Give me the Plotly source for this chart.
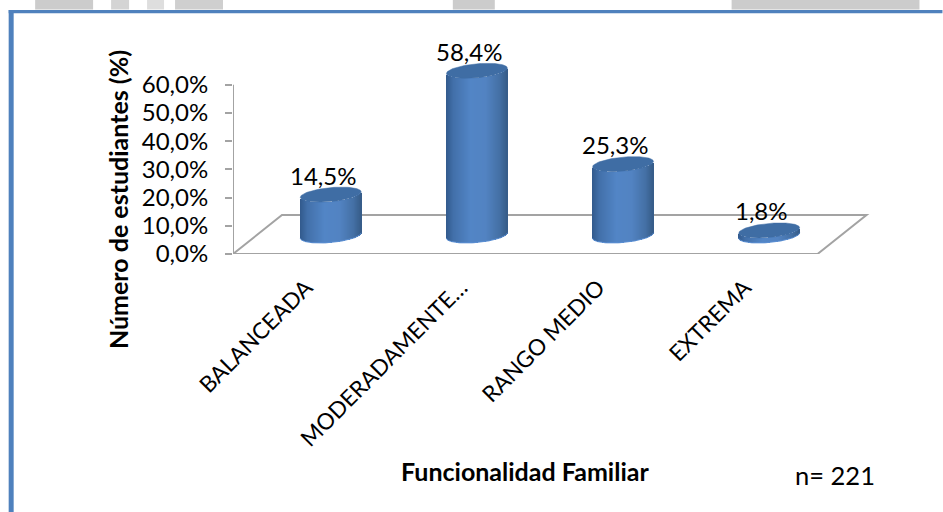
import numpy as np
import plotly.graph_objects as go

# Data
categories = ["BALANCEADA", "MODERADAMENTE…", "RANGO MEDIO", "EXTREMA"]
percentages = [14.5, 58.4, 25.3, 1.8]
y_ticks = [0, 10, 20, 30, 40, 50, 60]

# Fake-3D geometry: pixels per axis unit and cylinder shape
W, H = 943, 512
PX_X, PX_Y = 146.25, 2.82
LEFT, FLOOR = 233, 254
Y_MAX = 78
X_MIN, X_MAX = -0.5, 3.9
DEPTH_X = 24.7 / PX_X        # cylinders stand mid-way along the floor depth
DEPTH_Y = 18.5 / PX_Y
BACK_X, BACK_Y = 49 / PX_X, 39 / PX_Y
RADIUS = 30.5 / PX_X
TILT = 2.7 / PX_Y
MINOR = 7.0 / PX_Y
AXIS_GREY = "#a3a3a3"
BLUE_TOP = "#3f6da4"
RIM = "#5c90d4"

MARGIN_T = FLOOR - Y_MAX * PX_Y
PLOT_W = (X_MAX - X_MIN) * PX_X
PLOT_H = Y_MAX * PX_Y

shade_t = [-1.0, -0.75, -0.2, 0.3, 0.75, 1.0]
shade_r = [50, 66, 82, 82, 68, 54]
shade_g = [90, 112, 133, 131, 112, 92]
shade_b = [140, 170, 198, 194, 165, 136]


def pct(v):
    return f"{v:.1f}%".replace(".", ",")


def shade(t):
    r = np.interp(t, shade_t, shade_r)
    g = np.interp(t, shade_t, shade_g)
    b = np.interp(t, shade_t, shade_b)
    return f"rgb({r:.0f},{g:.0f},{b:.0f})"


def page_x(px):
    # page pixel to paper fraction of the plot area
    return (px - LEFT) / PLOT_W


def page_y(px):
    return 1 - (px - MARGIN_T) / PLOT_H


fig = go.Figure()

# One cylinder per category: a body of thin shaded bars, a rim and a lid
n_strips = 61
t_edges = np.linspace(-1, 1, n_strips + 1)
t_mid = (t_edges[:-1] + t_edges[1:]) / 2
angles = np.linspace(0, 2 * np.pi, 121)
lower = np.linspace(np.pi, 2 * np.pi, 61)

for i, value in enumerate(percentages):
    cx = i + DEPTH_X
    arc = DEPTH_Y + TILT * t_mid - MINOR * np.sqrt(1 - t_mid ** 2)
    fig.add_trace(go.Bar(
        x=cx + RADIUS * t_mid,
        y=[value] * n_strips,
        base=arc,
        width=2 * RADIUS / n_strips,
        marker=dict(color=[shade(t) for t in t_mid], line=dict(width=0)),
        hoverinfo="skip",
    ))
    fig.add_trace(go.Scatter(
        x=cx + RADIUS * np.cos(lower),
        y=DEPTH_Y + TILT * np.cos(lower) + MINOR * np.sin(lower),
        mode="lines",
        line=dict(color=RIM, width=1),
        hoverinfo="skip",
    ))
    fig.add_trace(go.Scatter(
        x=cx + RADIUS * np.cos(angles),
        y=DEPTH_Y + value + TILT * np.cos(angles) + MINOR * np.sin(angles),
        mode="lines",
        fill="toself",
        fillcolor=BLUE_TOP,
        line=dict(color=BLUE_TOP, width=0.5),
        hoverinfo="skip",
    ))

shapes = [
    # Floor outline and value axis
    dict(type="path", xref="x", yref="y", layer="below",
         path=(f"M {X_MIN},0 L {3.5},0 L {3.5 + BACK_X},{BACK_Y} "
               f"L {X_MIN + BACK_X},{BACK_Y} Z"),
         line=dict(color=AXIS_GREY, width=2)),
    dict(type="line", xref="x", yref="y", layer="below",
         x0=X_MIN, x1=X_MIN, y0=0, y1=60,
         line=dict(color=AXIS_GREY, width=2)),
    # Slide frame
    dict(type="rect", xref="paper", yref="paper", layer="above",
         x0=page_x(8.5), x1=page_x(13.5), y0=page_y(H), y1=page_y(10),
         fillcolor="#4f81bd", line=dict(width=0)),
    dict(type="rect", xref="paper", yref="paper", layer="above",
         x0=page_x(8.5), x1=page_x(W), y0=page_y(13.3), y1=page_y(10),
         fillcolor="#4f81bd", line=dict(width=0)),
]
# Grey strips above the frame
for x0, x1, col in [(35, 93, "#cccccc"), (111, 129, "#d4d4d4"), (147, 164, "#dedede"),
                    (175, 223, "#cfcfcf"), (453, 495, "#cccccc"), (732, 920, "#cccccc")]:
    shapes.append(dict(type="rect", xref="paper", yref="paper", layer="above",
                       x0=page_x(x0), x1=page_x(x1), y0=page_y(9.5), y1=page_y(0),
                       fillcolor=col, line=dict(width=0)))

annotations = [
    dict(text=pct(v), x=i + DEPTH_X - 8 / PX_X, y=DEPTH_Y + v + 19.5 / PX_Y,
         xref="x", yref="y", showarrow=False, font=dict(size=24),
         xanchor="center", yanchor="middle")
    for i, v in enumerate(percentages)
]
annotations += [
    dict(text="<b>Número de estudiantes (%)</b>", textangle=-90,
         x=page_x(118), y=page_y(200), xref="paper", yref="paper",
         showarrow=False, font=dict(size=25), xanchor="center", yanchor="middle"),
    dict(text="<b>Funcionalidad Familiar</b>",
         x=page_x(525), y=page_y(471), xref="paper", yref="paper",
         showarrow=False, font=dict(size=25), xanchor="center", yanchor="middle"),
    dict(text="n= 221",
         x=page_x(835.5), y=page_y(475), xref="paper", yref="paper",
         showarrow=False, font=dict(size=25.5), xanchor="center", yanchor="middle"),
]

# The long truncated label sits a little further along its slot
label_nudge = [0, 0.06, 0, 0]

fig.update_layout(
    width=W, height=H,
    margin=dict(l=LEFT, r=W - (LEFT + PLOT_W), t=MARGIN_T, b=H - FLOOR, pad=0),
    paper_bgcolor="white", plot_bgcolor="rgba(0,0,0,0)",
    barmode="overlay", bargap=0, showlegend=False,
    font=dict(family="Lato", color="black"),
    shapes=shapes, annotations=annotations,
    xaxis=dict(range=[X_MIN, X_MAX],
               tickvals=[i + n for i, n in enumerate(label_nudge)],
               ticktext=categories, tickangle=-45, showgrid=False, zeroline=False,
               showline=False, ticks="", ticklabelstandoff=15,
               tickfont=dict(size=22.5)),
    yaxis=dict(range=[0, Y_MAX], tickvals=y_ticks, ticktext=[pct(v) for v in y_ticks],
               showgrid=False, zeroline=False, showline=False,
               ticks="outside", ticklen=7, tickwidth=2, tickcolor=AXIS_GREY,
               ticklabelstandoff=12, tickfont=dict(size=24)),
)

fig.write_html("out.html", config=dict(displayModeBar=False))
